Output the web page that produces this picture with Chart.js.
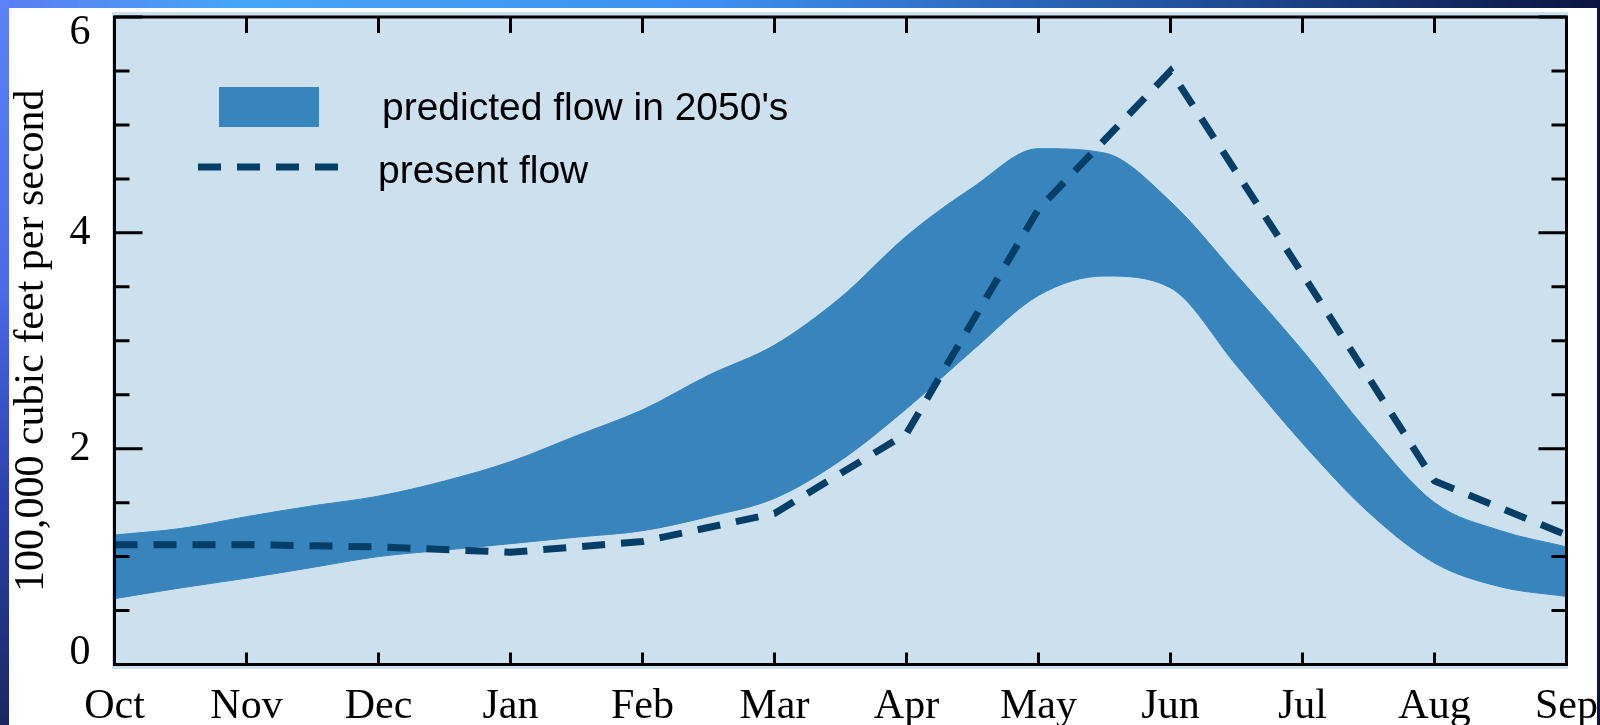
<!DOCTYPE html>
<html>
<head>
<meta charset="utf-8">
<script src="https://cdn.jsdelivr.net/npm/chart.js@4"></script>
<style>
  html, body { margin: 0; padding: 0; background: #fff; }
  body { width: 1600px; height: 725px; position: relative; overflow: hidden; }
  #topBar { position: absolute; left: 0; top: 0; width: 1600px; height: 8px;
    background: linear-gradient(to right, #5b7df2 0%, #45a6f7 15%, #3d8ff0 45%, #1f4f9a 75%, #0b1440 100%); }
  #leftBar { position: absolute; left: 0; top: 0; width: 9px; height: 725px;
    background: linear-gradient(to bottom, #5b82f6 0%, #4a6ae8 40%, #2a3fa8 70%, #1a2860 100%); }
  #rightBar { position: absolute; left: 1597px; top: 0; width: 3px; height: 725px; background: #0b1440; z-index: 2; }
  canvas { position: absolute; left: 0; top: 0; z-index: 1; }
</style>
</head>
<body>
<div id="topBar"></div>
<div id="leftBar"></div>
<div id="rightBar"></div>
<canvas id="flowChart" width="1600" height="725"></canvas>
<script>
// month labels on the x axis (Oct = 0 ... Sep = 11)
const months = ['Oct', 'Nov', 'Dec', 'Jan', 'Feb', 'Mar', 'Apr', 'May', 'Jun', 'Jul', 'Aug', 'Sep'];
const yLabels = [0, 2, 4, 6];

// predicted flow band, read every half month
const bandPos = [0, 0.5, 1, 1.5, 2, 2.5, 3, 3.5, 4, 4.5, 5, 5.5, 6, 6.5, 7, 7.5, 8, 8.5, 9, 9.5, 10, 10.5, 11];
const predictedHigh = [1.20, 1.26, 1.37, 1.47, 1.56, 1.70, 1.88, 2.12, 2.36, 2.68, 2.96, 3.40, 3.97, 4.42, 4.78, 4.74, 4.29, 3.61, 2.91, 2.15, 1.50, 1.24, 1.09];
const predictedLow  = [0.61, 0.71, 0.80, 0.90, 1.00, 1.06, 1.12, 1.18, 1.24, 1.37, 1.54, 1.89, 2.37, 2.91, 3.42, 3.60, 3.49, 2.77, 2.05, 1.41, 0.94, 0.72, 0.63];

// present flow, one value per month
const presentFlow = [1.11, 1.11, 1.09, 1.04, 1.14, 1.40, 2.14, 4.22, 5.50, 3.62, 1.70, 1.20];

const bandColor = '#3785bc';
const lineColor = '#053f68';

// light blue panel behind the plot
const panelBg = {
    id: 'panelBg',
    beforeDraw(chart) {
        const { ctx, chartArea: a } = chart;
        ctx.save();
        ctx.fillStyle = '#cde0ee';
        ctx.fillRect(a.left - 2.5, a.top - 5, a.width + 4, a.height + 9.5);
        ctx.restore();
    }
};

// black frame with inward ticks on all four sides
const frame = {
    id: 'frame',
    afterDatasetsDraw(chart) {
        const { ctx, chartArea: a, scales } = chart;
        ctx.save();
        ctx.strokeStyle = '#000';
        ctx.lineWidth = 3;
        ctx.beginPath();
        scales.y.ticks.forEach(t => {
            const py = scales.y.getPixelForValue(t.value);
            const len = yLabels.includes(t.value) ? 28 : 15;
            ctx.moveTo(a.left, py); ctx.lineTo(a.left + len, py);
            ctx.moveTo(a.right, py); ctx.lineTo(a.right - len, py);
        });
        scales.x.ticks.forEach(t => {
            const px = scales.x.getPixelForValue(t.value);
            ctx.moveTo(px, a.top); ctx.lineTo(px, a.top + 16);
            ctx.moveTo(px, a.bottom); ctx.lineTo(px, a.bottom - 12);
        });
        ctx.stroke();
        ctx.strokeRect(a.left, a.top, a.width, a.height);
        ctx.restore();
    }
};

// legend inside the plot, top left
const insideLegend = {
    id: 'insideLegend',
    afterDraw(chart) {
        const { ctx, chartArea: a } = chart;
        const ds = chart.data.datasets;
        const x0 = a.left;
        const y0 = a.top;
        ctx.save();
        ctx.fillStyle = bandColor;
        ctx.fillRect(x0 + 104.5, y0 + 70, 100, 40);
        ctx.strokeStyle = lineColor;
        ctx.lineWidth = 7;
        ctx.setLineDash([23, 16]);
        ctx.beginPath();
        ctx.moveTo(x0 + 83.5, y0 + 150);
        ctx.lineTo(x0 + 225.5, y0 + 150);
        ctx.stroke();
        ctx.fillStyle = '#000';
        ctx.font = '39px "Liberation Sans"';
        ctx.textBaseline = 'alphabetic';
        ctx.fillText(ds[2].label, x0 + 267.5, y0 + 103);
        ctx.fillText(ds[0].label, x0 + 263.5, y0 + 166);
        ctx.restore();
    }
};

const serif = { family: '"Liberation Serif", "DejaVu Serif", serif', size: 42 };

// end labels of the y axis sit inside the frame, not centred on the tick
const yTickFont = c => {
    const v = c.tick ? c.tick.value : null;
    if (v === 6) return { ...serif, lineHeight: 32 / 42 };
    if (v === 0) return { ...serif, lineHeight: 24 / 42 };
    return serif;
};

const ctx = document.getElementById('flowChart').getContext('2d');

new Chart(ctx, {
    type: 'line',
    data: {
        datasets: [
            {
                label: 'present flow',
                data: presentFlow.map((v, i) => ({ x: i, y: v })),
                borderColor: lineColor,
                borderWidth: 7,
                borderDash: [23, 16],
                pointRadius: 0,
                tension: 0,
                fill: false,
                order: 0
            },
            {
                label: 'predicted low',
                data: bandPos.map((p, i) => ({ x: p, y: predictedLow[i] })),
                borderColor: bandColor,
                borderWidth: 1,
                pointRadius: 0,
                cubicInterpolationMode: 'monotone',
                fill: false,
                order: 1
            },
            {
                label: "predicted flow in 2050's",
                data: bandPos.map((p, i) => ({ x: p, y: predictedHigh[i] })),
                borderColor: bandColor,
                backgroundColor: bandColor,
                borderWidth: 1,
                pointRadius: 0,
                cubicInterpolationMode: 'monotone',
                fill: '-1',
                order: 1
            }
        ]
    },
    options: {
        responsive: false,
        animation: false,
        devicePixelRatio: 1,
        layout: { padding: { top: 17, right: 33.5, left: 0, bottom: 0 } },
        plugins: {
            legend: { display: false },
            tooltip: { enabled: false }
        },
        scales: {
            x: {
                type: 'linear',
                min: 0,
                max: 11,
                grid: { display: false },
                border: { display: false },
                ticks: {
                    stepSize: 1,
                    autoSkip: false,
                    maxRotation: 0,
                    padding: 9,
                    color: '#000',
                    font: serif,
                    callback: v => months[v]
                },
                afterFit(scale) {
                    scale.height = 60.5;
                    scale.paddingLeft = 0;
                    scale.paddingRight = 0;
                }
            },
            y: {
                min: 0,
                max: 6,
                grid: { display: false },
                border: { display: false },
                ticks: {
                    stepSize: 0.5,
                    autoSkip: false,
                    padding: 16,
                    color: '#000',
                    font: yTickFont,
                    callback: v => {
                        if (v === 6) return ['', '6'];
                        if (v === 0) return ['0', ''];
                        return yLabels.includes(v) ? String(v) : '';
                    }
                },
                title: {
                    display: true,
                    text: '100,000 cubic feet per second',
                    color: '#000',
                    font: serif,
                    padding: { top: 7, bottom: 0 }
                },
                afterFit(scale) {
                    scale.width = 114.5;
                    scale.paddingTop = 0;
                    scale.paddingBottom = 0;
                }
            }
        }
    },
    plugins: [panelBg, frame, insideLegend]
});
</script>
</body>
</html>
